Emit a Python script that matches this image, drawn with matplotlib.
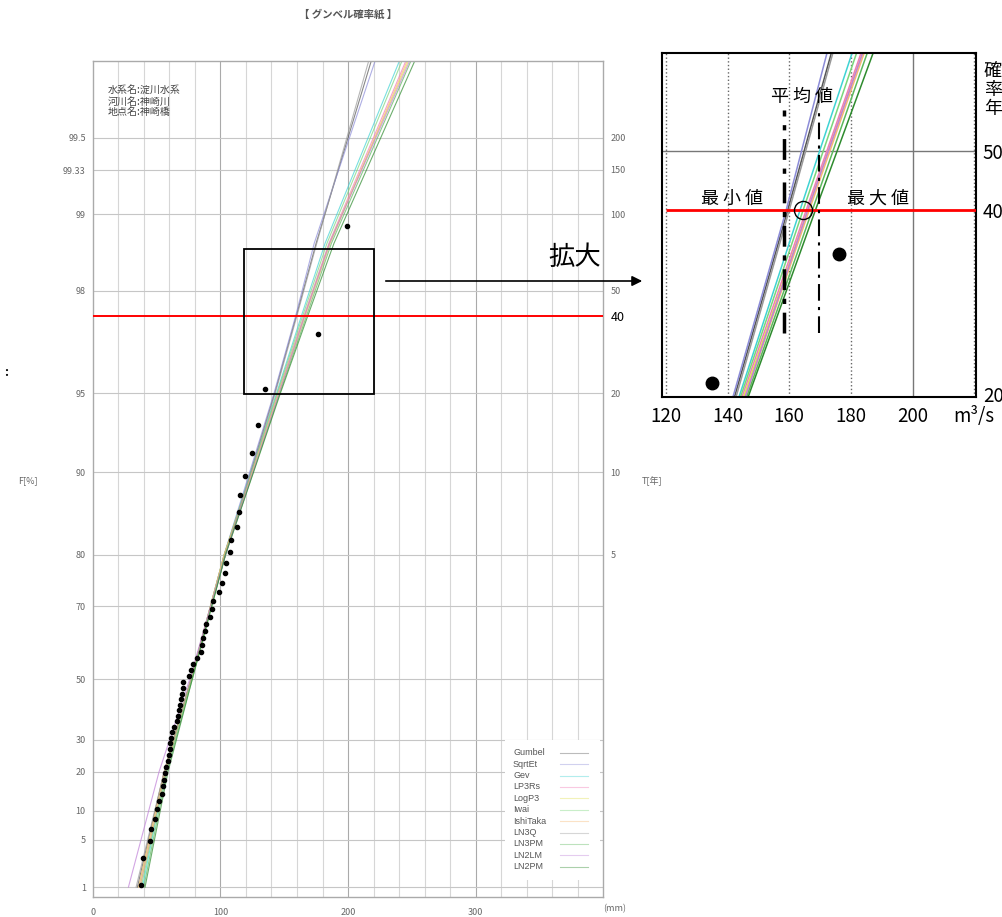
import numpy as np
import matplotlib.pyplot as plt
from matplotlib.patches import Rectangle

plt.rcParams['font.family'] = ['Noto Sans CJK JP', 'DejaVu Sans']

W, H = 1003, 917

# ANNUAL MAXIMUM VALUES (mm), SORTED
rain = [37.8, 39.5, 44.5, 46.0, 48.5, 50.5, 52.0, 54.0, 55.0, 55.8,
        56.6, 57.4, 59.0, 59.7, 60.3, 60.6, 61.3, 61.9, 63.7, 65.8,
        66.6, 67.6, 68.4, 68.9, 69.7, 70.5, 70.9, 75.6, 76.7, 78.3,
        81.4, 84.6, 85.4, 86.1, 87.9, 88.7, 91.9, 93.2, 94.0, 99.1,
        101.5, 103.6, 104.4, 107.5, 108.1, 113.2, 114.6, 115.3, 119.3, 124.5,
        129.2, 134.9, 176.2, 199.1]

# FITTED DISTRIBUTIONS: QUANTILES AT THESE NON-EXCEEDANCE PROBABILITIES
fit_p = [0.01, 0.2, 0.5, 0.8, 0.95, 0.975, 0.987, 0.9975]
gumbel_q = [35, 56, 77, 104, 142.5, 159.5, 175.0, 218]
sqrtet_q = [37, 57, 77, 103, 142.0, 159.0, 173.5, 221]
gev_q = [39, 57, 77, 103, 144.0, 163.5, 182.0, 240]
lp3rs_q = [36, 56, 77, 103, 145.0, 165.5, 185.0, 245]
logp3_q = [36, 56, 77, 103, 145.5, 166.0, 185.5, 247]
iwai_q = [38, 57, 77, 103, 144.5, 164.5, 183.5, 242]
ishitaka_q = [37, 57, 77, 103, 146.0, 166.5, 186.0, 246]
ln3q_q = [34, 56, 77, 104, 143.0, 160.0, 175.5, 216]
ln3pm_q = [40, 58, 78, 104, 146.5, 167.5, 187.0, 249]
ln2lm_q = [28, 52, 76, 104, 146.0, 166.0, 185.5, 248]
ln2pm_q = [41, 59, 78, 104, 147.0, 168.5, 189.0, 252]

methods = ['Gumbel', 'SqrtEt', 'Gev', 'LP3Rs', 'LogP3', 'Iwai', 'IshiTaka',
           'LN3Q', 'LN3PM', 'LN2LM', 'LN2PM']
quants = [gumbel_q, sqrtet_q, gev_q, lp3rs_q, logp3_q, iwai_q, ishitaka_q,
          ln3q_q, ln3pm_q, ln2lm_q, ln2pm_q]
colors = ['#555555', '#8c8cd8', '#3fd3d3', '#f27ab6', '#e0e050', '#7ad67a',
          '#f5b872', '#999999', '#5cb85c', '#c080d8', '#2e8b2e']

# AXIS LABELS
left_F = [1, 5, 10, 20, 30, 50, 70, 80, 90, 95, 98, 99, 99.33, 99.5]
left_lab = ['1', '5', '10', '20', '30', '50', '70', '80', '90', '95', '98', '99', '99.33', '99.5']
right_T = [5, 10, 20, 40, 50, 100, 150, 200]
design_T = 40

# INSET ANNOTATION VALUES (m3/s)
ann_min = 158.2
ann_max = 169.8
ann_mean = 164.3


def g(F):
    # GUMBEL REDUCED VARIATE
    return -np.log(-np.log(np.asarray(F, dtype=float)))


def tp(T):
    return g(1 - 1 / np.asarray(T, dtype=float))


def fx(px):
    return px / W


def fy(py):
    return 1 - py / H


n = len(rain)
rank = np.arange(1, n + 1)
pp = (rank - 0.4) / (n + 0.2)  # CUNNANE PLOTTING POSITION

fig = plt.figure(figsize=(W / 100, H / 100), dpi=100)

# ---------------- MAIN GUMBEL PAPER ----------------
ax = fig.add_axes([fx(92.7), fy(896.5), (603.4 - 92.7) / W, (896.5 - 60.6) / H])
ax.set_xlim(0, 400)
ax.set_ylim(-1.613, 6.0)

for xv in range(20, 400, 20):
    c = '#aaaaaa' if xv % 100 == 0 else '#d6d6d6'
    ax.axvline(xv, color=c, lw=0.8, zorder=1)
for yv in g(np.array(left_F) / 100):
    ax.axhline(yv, color='#c6c6c6', lw=0.8, zorder=1)

for q, c in zip(quants, colors):
    ax.plot(q, g(fit_p), color=c, lw=0.8, alpha=0.7, zorder=2)
ax.plot(rain, g(pp), 'o', color='k', ms=3.0, zorder=3)

ax.axhline(tp(design_T), color='red', lw=1.4, zorder=4)

ax.set_xticks([0, 100, 200, 300])
ax.set_yticks(g(np.array(left_F) / 100))
ax.set_yticklabels(left_lab)
ax.tick_params(length=0, labelsize=6.5, labelcolor='#666666', pad=5)
ax.tick_params(axis='x', pad=8)
for s in ax.spines.values():
    s.set_color('#aaaaaa')
    s.set_linewidth(1)

ax2 = ax.twinx()
ax2.set_ylim(ax.get_ylim())
ax2.set_yticks(tp(right_T))
ax2.set_yticklabels([str(t) for t in right_T])
ax2.tick_params(length=0, labelsize=6.5, labelcolor='#666666', pad=5)
for lab, t in zip(ax2.get_yticklabels(), right_T):
    if t == design_T:
        lab.set_color('k')
        lab.set_fontsize(9)
for s in ax2.spines.values():
    s.set_visible(False)

# LEGEND (labels left, line samples right)
ax.add_patch(Rectangle((0.807, 0.02), 0.186, 0.167, transform=ax.transAxes,
                       fc='white', ec='none', zorder=5))
for i, (m, c) in enumerate(zip(methods, colors)):
    yy = (896.5 - (752.7 + 11.4 * i)) / 835.9
    ax.text(0.823, yy, m, transform=ax.transAxes, fontsize=6.5, color='#555555',
            va='center', ha='left', family=['Liberation Sans', 'DejaVu Sans'], zorder=6)
    ax.plot([0.915, 0.97], [yy, yy], transform=ax.transAxes, color=c, lw=0.8,
            alpha=0.4, zorder=6)

ax.text(0.03, 0.97, '水系名:淀川水系\n河川名:神崎川\n地点名:神崎橋', transform=ax.transAxes,
        fontsize=7.2, color='#444444', va='top', ha='left', linespacing=1.1)

fig.text(fx(348), fy(14), '【 グンベル確率紙 】', fontsize=7.5, color='#555555',
         ha='center', va='center', weight='bold')
fig.text(fx(28), fy(481), 'F[%]', fontsize=6.5, color='#666666', ha='center', va='center')
fig.text(fx(652), fy(481), 'T[年]', fontsize=6.5, color='#666666', ha='center', va='center')
fig.text(fx(615), fy(909), '(mm)', fontsize=6.5, color='#666666', ha='center', va='center')
fig.text(fx(6), fy(372), ':', fontsize=9, color='k', ha='center', va='center', weight='bold')

# ---------------- INSET (ENLARGED) ----------------
axin = fig.add_axes([fx(661.7), fy(396.7), (976 - 661.7) / W, (396.7 - 52.7) / H])
axin.set_xlim(118.6, 220.6)
axin.set_ylim(2.96, 4.28)

for xv in [120, 140, 160, 180, 220]:
    axin.axvline(xv, color='#666666', lw=1, ls=':', zorder=1)
axin.axvline(200, color='#777777', lw=1, zorder=1)
axin.axhline(tp(50), color='#777777', lw=1, zorder=1)

for q, c in zip(quants, colors):
    axin.plot(q, g(fit_p), color=c, lw=1.1, zorder=2)
axin.plot(rain, g(pp), 'o', color='k', ms=9, zorder=3)

axin.hlines(tp(design_T), 120, 220.6, color='red', lw=2, zorder=4)
axin.vlines(ann_min, 3.203, 4.06, color='k', lw=2.5, ls=(0, (6, 2.5, 1.5, 2.5)), zorder=4)
axin.vlines(ann_max, 3.203, 4.06, color='k', lw=1.5, ls=(0, (8, 3, 1.5, 3)), zorder=4)
axin.plot(ann_mean, tp(design_T), 'o', mfc='none', mec='k', ms=13, mew=1, zorder=5)

axin.set_xticks([120, 140, 160, 180, 200, 220])
axin.set_xticklabels(['120', '140', '160', '180', '200', 'm³/s'])
axin.yaxis.tick_right()
axin.set_yticks(tp([20, 40, 50]))
axin.set_yticklabels(['20', '40', '50'])
axin.tick_params(length=0, labelsize=13.5, labelcolor='k')
axin.tick_params(axis='x', pad=7)
axin.tick_params(axis='y', pad=5)
for s in axin.spines.values():
    s.set_color('k')
    s.set_linewidth(1.5)

fig.text(fx(993), fy(90), '確\n率\n年', fontsize=13, ha='center', va='center', linespacing=1.05)
fig.text(fx(801.7), fy(97), '平 均 値', fontsize=13, ha='center', va='center')
fig.text(fx(731.7), fy(199), '最 小 値', fontsize=13, ha='center', va='center')
fig.text(fx(878.3), fy(199), '最 大 値', fontsize=13, ha='center', va='center')

# BOX ON THE MAIN CHART SHOWING THE ENLARGED AREA
xl, yl = axin.get_xlim(), axin.get_ylim()
ax.add_patch(Rectangle((xl[0], yl[0]), xl[1] - xl[0], yl[1] - yl[0], fill=False,
                       ec='k', lw=1.3, zorder=6))

fig.text(fx(575), fy(258), '拡大', fontsize=19, ha='center', va='center')
ax.annotate('', xy=(fx(645), fy(281)), xytext=(fx(383), fy(281)), xycoords='figure fraction',
            arrowprops=dict(arrowstyle='-|>', color='k', lw=1.2, mutation_scale=15),
            annotation_clip=False)

fig.savefig('out.png', dpi=100)
